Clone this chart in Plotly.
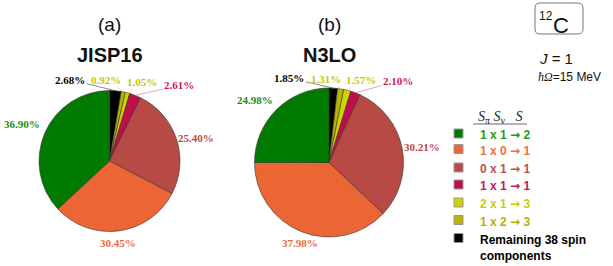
import math
import plotly.graph_objects as go

# ---------------- data ----------------
categories = ["1 x 1 \u2192 2", "1 x 0 \u2192 1", "0 x 1 \u2192 1", "1 x 1 \u2192 1",
              "2 x 1 \u2192 3", "1 x 2 \u2192 3", "Remaining 38 spin components"]
legend_labels = ["1 x 1 \u2192 2", "1 x 0 \u2192 1", "0 x 1 \u2192 1", "1 x 1 \u2192 1",
                 "2 x 1 \u2192 3", "1 x 2 \u2192 3", "Remaining 38 spin<br>components"]
jisp16 = [36.90, 30.45, 25.40, 2.61, 1.05, 0.92, 2.68]
n3lo = [24.98, 37.98, 30.21, 2.10, 1.57, 1.31, 1.85]
panel_tags = ["(a)", "(b)"]
panel_names = ["JISP16", "N3LO"]

# ---------------- styles ----------------
W, H = 613, 266
slice_colors = ["#007a00", "#ec6535", "#b84a46", "#bf0f4a", "#d2d200", "#b8b400", "#000000"]
label_colors = ["#1a8a1a", "#ee6a3a", "#c04848", "#c81858", "#c8c800", "#c8c800", "#000000"]
legend_text_colors = ["#1e9a1e", "#ee7040", "#c0504d", "#c8185a", "#cccc00", "#b5b000", "#000000"]
line_colors = ["#888", "#888", "#888", "#d87a9a", "#d8d860", "#d8d860", "#555"]

# pie geometry (pixels): centre x, centre y, radius
pies = [dict(cx=109.5, cy=161.0, r=70.5), dict(cx=329.0, cy=162.5, r=74.5)]
# label offsets (pixels) from slice-rim anchor
offsets = [
    [(-23, -9), (-1, 12), (20, -1), (44, -10), (14, -11), (-17, -12), (-45, -11)],
    [(-21, -10), (-1, 11), (20, -1), (43, -12), (14, -10), (-15, -10), (-44, -10)],
]
leader_threshold = 5.0

legend_rows_y = [133.5, 149, 167.5, 184.5, 202.5, 220, 238]
sq_x0, sq_x1, sq_h = 454, 463, 9
legend_text_x = 478


def px(x):
    return x / W


def py(y):
    return 1 - y / H


fig = go.Figure()
annotations = []
shapes = []

for k, vals in enumerate([jisp16, n3lo]):
    g = pies[k]
    # drawn clockwise from 12 o'clock in reverse legend order
    fig.add_trace(go.Pie(
        values=vals[::-1], labels=categories[::-1], sort=False, direction="clockwise",
        rotation=0, textinfo="none", showlegend=False,
        marker=dict(colors=slice_colors[::-1], line=dict(color="#333333", width=0.6)),
        domain=dict(x=[px(g["cx"] - g["r"]), px(g["cx"] + g["r"])],
                    y=[py(g["cy"] + g["r"]), py(g["cy"] - g["r"])]),
    ))
    total = sum(vals)
    cum = 0.0
    for i, v in enumerate(vals):
        theta = 2 * math.pi * (cum + v / 2) / total
        cum += v
        ax_px = g["cx"] - g["r"] * math.sin(theta)
        ay_px = g["cy"] - g["r"] * math.cos(theta)
        dx, dy = offsets[k][i]
        lead = v < leader_threshold
        annotations.append(dict(
            x=px(ax_px), y=py(ay_px), xref="paper", yref="paper",
            text=f"<b>{v:.2f}%</b>", showarrow=True, ax=dx, ay=dy,
            xanchor="center", yanchor="middle",
            arrowhead=0, arrowwidth=0.7, standoff=0,
            arrowcolor=line_colors[i] if lead else "rgba(0,0,0,0)",
            font=dict(family="Liberation Serif", size=11, color=label_colors[i]),
        ))
    annotations.append(dict(x=px(g["cx"]), y=py(24), xref="paper", yref="paper",
                            xanchor="center", yanchor="middle",
                            text=panel_tags[k], showarrow=False,
                            font=dict(family="Liberation Sans", size=19, color="#111")))
    annotations.append(dict(x=px(g["cx"]), y=py(55), xref="paper", yref="paper",
                            xanchor="center", yanchor="middle",
                            text=f"<b>{panel_names[k]}</b>", showarrow=False,
                            font=dict(family="Liberation Sans", size=20, color="#111")))

# legend
annotations.append(dict(
    x=px(500), y=py(118), xref="paper", yref="paper", showarrow=False,
    xanchor="center", yanchor="middle",
    text="<i>S</i><sub>\u03c0</sub> <i>S</i><sub>\u03bd</sub>\u00a0\u00a0\u00a0<i>S</i>",
    font=dict(family="Liberation Serif", size=14, color="#222")))
shapes.append(dict(type="line", xref="paper", yref="paper",
                   x0=px(473), x1=px(527), y0=py(124), y1=py(124),
                   line=dict(color="#444", width=0.8)))
for i, lab in enumerate(legend_labels):
    yc = legend_rows_y[i]
    shapes.append(dict(type="rect", xref="paper", yref="paper",
                       x0=px(sq_x0), x1=px(sq_x1), y0=py(yc + sq_h / 2), y1=py(yc - sq_h / 2),
                       fillcolor=slice_colors[i], line=dict(color="#999", width=1)))
    shown = lab.replace("\u2192", "<span style='font-family:DejaVu Sans'>\u2192</span>")
    annotations.append(dict(
        x=px(legend_text_x), y=py(yc - 7.5), xref="paper", yref="paper",
        xanchor="left", yanchor="top", align="left", showarrow=False,
        text=f"<b>{shown}</b>",
        font=dict(family="Liberation Sans", size=12, color=legend_text_colors[i])))

# nucleus box
x0b, x1b, y0b, y1b, rr = 535, 583, 3, 34, 5
path = (f"M {px(x0b + rr)},{py(y0b)} L {px(x1b - rr)},{py(y0b)} "
        f"Q {px(x1b)},{py(y0b)} {px(x1b)},{py(y0b + rr)} "
        f"L {px(x1b)},{py(y1b - rr)} Q {px(x1b)},{py(y1b)} {px(x1b - rr)},{py(y1b)} "
        f"L {px(x0b + rr)},{py(y1b)} Q {px(x0b)},{py(y1b)} {px(x0b)},{py(y1b - rr)} "
        f"L {px(x0b)},{py(y0b + rr)} Q {px(x0b)},{py(y0b)} {px(x0b + rr)},{py(y0b)} Z")
shapes.append(dict(type="path", xref="paper", yref="paper", path=path,
                   line=dict(color="#777", width=1)))
annotations.append(dict(x=px(546), y=py(16.5), xref="paper", yref="paper", showarrow=False,
                        xanchor="center", yanchor="middle",
                        text="12", font=dict(family="Liberation Sans", size=12, color="#111")))
annotations.append(dict(x=px(561), y=py(25.5), xref="paper", yref="paper", showarrow=False,
                        xanchor="center", yanchor="middle",
                        text="C", font=dict(family="Liberation Sans", size=22, color="#111")))
annotations.append(dict(x=px(537), y=py(58), xref="paper", yref="paper", showarrow=False,
                        xanchor="left", yanchor="middle", text="<i>J</i> = 1",
                        font=dict(family="Liberation Sans", size=15, color="#111")))
annotations.append(dict(x=px(536), y=py(77), xref="paper", yref="paper", showarrow=False,
                        xanchor="left", yanchor="middle",
                        text="<span style='font-family:Liberation Serif;font-style:italic'>\u0127\u03a9</span>=15 MeV",
                        font=dict(family="Liberation Sans", size=12, color="#111")))

fig.update_layout(
    width=W, height=H, margin=dict(l=0, r=0, t=0, b=0),
    paper_bgcolor="white", plot_bgcolor="white",
    annotations=annotations, shapes=shapes, showlegend=False,
)
fig.write_html("out.html", config={"displayModeBar": False},
               post_script="document.body.style.margin='0px';")
